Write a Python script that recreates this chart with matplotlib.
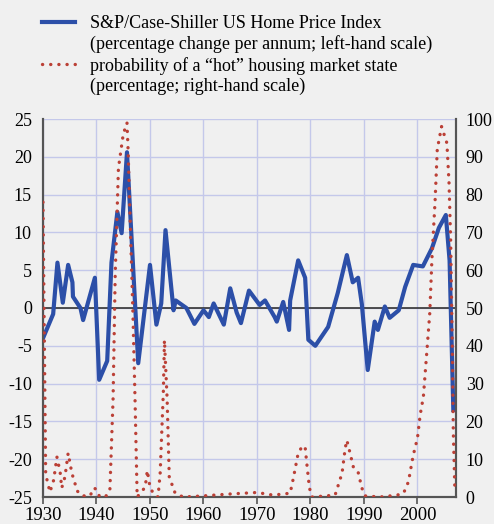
import matplotlib
matplotlib.use("Agg")
import matplotlib.pyplot as plt
from matplotlib.lines import Line2D

# =========================
# DATA
# =========================
hpi_years = [1930, 1931.9, 1932.7, 1933.7, 1934.7, 1935.5, 1935.6, 1937.0, 1937.5,
             1939.7, 1940.5, 1942.0, 1942.8, 1943.9, 1944.7, 1945.7, 1947.8, 1950.0,
             1951.2, 1952.1, 1952.9, 1954.4, 1954.8, 1956.8, 1958.3, 1960.0, 1961.0,
             1961.9, 1963.8, 1965.0, 1966.2, 1967.0, 1968.5, 1970.5, 1971.5, 1973.3,
             1973.7, 1974.9, 1976.0, 1976.2, 1977.7, 1979.0, 1979.6, 1980.9, 1983.3,
             1985.1, 1986.8, 1987.9, 1988.9, 1989.6, 1990.7, 1992.0, 1992.6, 1993.9,
             1994.8, 1996.5, 1997.7, 1999.2, 2001.0, 2002.7, 2004.0, 2005.3, 2006.0,
             2006.7]
hpi_change = [-4, -0.8, 6, 0.7, 5.7, 3.4, 1.5, 0, -1.6,
              4, -9.5, -7, 6, 12.7, 9.9, 20.6, -7.3, 5.7,
              -2.2, 0.6, 10.3, -0.3, 1, 0, -2.1, -0.3, -1.2,
              0.6, -2.2, 2.6, -0.6, -2, 2.3, 0.4, 1, -1.2,
              -1.8, 0.8, -2.9, 1, 6.3, 4, -4.2, -5, -2.5,
              2, 7, 3.4, 4, 0.5, -8.2, -1.8, -2.9, 0.2,
              -1.3, -0.3, 2.8, 5.7, 5.5, 7.9, 10.6, 12.3, 6.3,
              -13.5]

hot_years = [1930, 1930.5, 1931.3, 1932.0, 1932.6, 1933.2, 1933.5, 1934.1, 1934.7,
             1935.4, 1936.4, 1937.3, 1938.8, 1939.5, 1940.0, 1940.6, 1941.8, 1942.5,
             1943.1, 1943.5, 1944.1, 1945.0, 1945.7, 1945.9, 1946.4, 1946.8, 1947.2,
             1947.6, 1949.1, 1949.5, 1950.0, 1950.6, 1951.5, 1951.9, 1952.5, 1952.7,
             1953.2, 1953.6, 1954.7, 1956.2, 1960, 1965, 1970, 1973, 1976.2, 1976.8,
             1977.7, 1978.5, 1979.0, 1979.3, 1979.8, 1980.3, 1984.6, 1985.9, 1986.5,
             1986.8, 1987.4, 1988.0, 1988.9, 1989.6, 1990.2, 1993.0, 1996.2, 1997.4,
             1998.3, 1999.2, 2000.0, 2000.5, 2001.1, 2001.8, 2002.3, 2002.7, 2003.3,
             2003.7, 2004.5, 2005.5, 2005.9, 2006.2, 2006.5, 2006.7, 2007.0]
hot_prob = [78, 6, 1.3, 4.5, 10.6, 6.6, 2.4, 5.3, 11.6,
            6.3, 1.6, 0.3, 0.3, 2.4, 2, 0, 0.3, 1.8,
            26, 59, 87, 96, 99, 92, 68, 49, 26,
            0, 2.6, 7, 2.6, 1, 0, 6.3, 28, 41.5,
            26, 5.3, 1, 0, 0.3, 0.8, 1.2, 0.5, 1, 5,
            11.6, 13.5, 13.2, 9, 2.4, 0, 0.5, 6.3, 13,
            15, 11.6, 8, 6.6, 2.4, 0.3, 0, 0.5, 1,
            4, 11, 15.6, 21.7, 26.5, 39.4, 48.7, 63, 78.6,
            92, 98, 93.6, 83, 68, 40.7, 17, 1.3]

label_hpi = ["S&P/Case-Shiller US Home Price Index",
             "(percentage change per annum; left-hand scale)"]
label_hot = ["probability of a \u201chot\u201d housing market state",
             "(percentage; right-hand scale)"]

x_ticks = [1930, 1940, 1950, 1960, 1970, 1980, 1990, 2000]
left_ticks = [-25, -20, -15, -10, -5, 0, 5, 10, 15, 20, 25]
right_ticks = [0, 10, 20, 30, 40, 50, 60, 70, 80, 90, 100]

# =========================
# STYLE
# =========================
BG = "#f0f0f0"
GRID = "#c4c8ea"
BLUE = "#2c4fa8"
RED = "#bb4036"
SPINE = "#555555"
DOTS = (0, (0.05, 2.4))

plt.rcParams["font.family"] = ["Liberation Serif", "DejaVu Serif"]
plt.rcParams["font.size"] = 13
plt.rcParams["axes.unicode_minus"] = False

fig = plt.figure(figsize=(4.94, 5.24), dpi=100, facecolor=BG)
ax = fig.add_axes([43 / 494, 27 / 524, 413 / 494, 378 / 524], facecolor=BG)
ax2 = ax.twinx()

# grid
ax.set_xticks(x_ticks)
ax.set_yticks(left_ticks)
ax.grid(True, color=GRID, linewidth=1.0)
ax.set_axisbelow(True)
ax.axhline(0, color="#333333", linewidth=1.2, zorder=1)

ax.plot(hpi_years, hpi_change, color=BLUE, linewidth=3.0, zorder=3,
        solid_joinstyle="round")
ax2.plot(hot_years, hot_prob, color=RED, linewidth=2.4,
         linestyle=DOTS, dash_capstyle="round", zorder=4)

ax.set_xlim(1930, 2007.2)
ax.set_ylim(-25, 25)
ax2.set_ylim(0, 100)
ax2.set_yticks(right_ticks)

for a in (ax, ax2):
    a.spines["top"].set_visible(False)
    for side in ("left", "right", "bottom"):
        a.spines[side].set_color(SPINE)
        a.spines[side].set_linewidth(1.5)

ax.tick_params(axis="y", length=0, pad=8)
ax2.tick_params(axis="y", length=0, pad=7)
ax.tick_params(axis="x", direction="out", length=5, width=1.2, color=SPINE,
               pad=2, labelsize=13.5)

# legend: keys on first lines only
handles = [Line2D([], [], color=BLUE, linewidth=3.0),
           Line2D([], [], color="none"),
           Line2D([], [], color=RED, linewidth=2.4, linestyle=DOTS,
                  dash_capstyle="round"),
           Line2D([], [], color="none")]
fig.legend(handles, label_hpi + label_hot, loc="upper left",
           bbox_to_anchor=(42 / 494, 1 - 15 / 524), frameon=False,
           handlelength=1.85, handletextpad=0.8, labelspacing=0.19,
           borderaxespad=0, borderpad=0)

fig.savefig("out.png", dpi=100, facecolor=BG)
